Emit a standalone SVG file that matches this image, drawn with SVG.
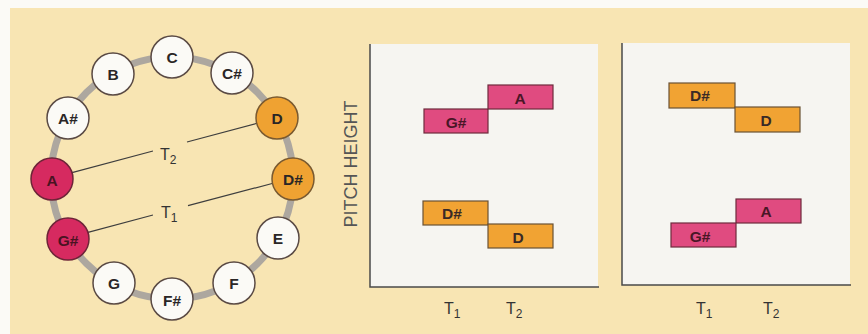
<svg xmlns="http://www.w3.org/2000/svg" width="868" height="334" viewBox="0 0 868 334">
  <style>
    .note circle { stroke: #5a4a44; stroke-width: 1.5; }
    .white circle { fill: #fbfaf6; }
    .red circle { fill: #d62a60; stroke: #6e2438; }
    .orange circle { fill: #efa232; stroke: #7a5a30; }
    .note text { font-family: "Liberation Sans", Arial, sans-serif; font-weight: bold; font-size: 15.5px; fill: #2a2626; text-anchor: middle; dominant-baseline: central; }
    .red text { fill: #4a1322; }
    .bar rect { stroke-width: 1.2; }
    .bar.pink rect { fill: #e04b80; stroke: #6e2a3c; }
    .bar.amber rect { fill: #f1a333; stroke: #6a5234; }
    .bar text { font-family: "Liberation Sans", Arial, sans-serif; font-weight: bold; font-size: 15.5px; fill: #3a2a26; text-anchor: middle; dominant-baseline: central; }
    .bar.pink text { fill: #4a1626; }
    .axis { stroke: #4a4a4a; stroke-width: 1.5; fill: none; }
    .lbl { font-family: "Liberation Sans", Arial, sans-serif; font-size: 16px; fill: #333; }
    .sub { font-size: 12px; }
    .chord { stroke: #3e3e3e; stroke-width: 1.2; fill: none; }
  </style>

  <!-- page and tinted background -->
  <rect x="0" y="0" width="868" height="334" fill="#fbfaf6"/>
  <rect x="10" y="8" width="858" height="326" fill="#f8e5b3"/>

  <!-- ring of pitch classes -->
  <circle cx="172" cy="178" r="121" fill="none" stroke="#ada79f" stroke-width="7"/>

  <!-- chords between pitch classes -->
  <g id="connectors">
    <path class="chord" d="M72,172.6 L153,151 M187,142 L258,123"/>
    <path class="chord" d="M88,232.4 L153,215 M188,205.6 L274,183"/>
    <text class="lbl" x="160" y="160">T<tspan class="sub" dy="4">2</tspan></text>
    <text class="lbl" x="161" y="218">T<tspan class="sub" dy="4">1</tspan></text>
  </g>

  <g id="note-C" class="note white"><circle cx="172" cy="57" r="21"/><text x="172" y="57">C</text></g>
  <g id="note-Cs" class="note white"><circle cx="232" cy="73" r="21"/><text x="232" y="73">C#</text></g>
  <g id="note-D" class="note orange"><circle cx="277" cy="118" r="21"/><text x="277" y="118">D</text></g>
  <g id="note-Ds" class="note orange"><circle cx="293" cy="179" r="21"/><text x="293" y="179">D#</text></g>
  <g id="note-E" class="note white"><circle cx="278" cy="238" r="21"/><text x="278" y="238">E</text></g>
  <g id="note-F" class="note white"><circle cx="234" cy="283" r="21"/><text x="234" y="283">F</text></g>
  <g id="note-Fs" class="note white"><circle cx="172" cy="299" r="21"/><text x="172" y="300">F#</text></g>
  <g id="note-G" class="note white"><circle cx="114" cy="283" r="21"/><text x="114" y="283">G</text></g>
  <g id="note-Gs" class="note red"><circle cx="68" cy="239" r="21"/><text x="68" y="240">G#</text></g>
  <g id="note-A" class="note red"><circle cx="52" cy="179" r="21"/><text x="52" y="180">A</text></g>
  <g id="note-As" class="note white"><circle cx="68" cy="118" r="21"/><text x="68" y="118">A#</text></g>
  <g id="note-B" class="note white"><circle cx="113" cy="74" r="21"/><text x="113" y="74">B</text></g>

  <!-- first pitch-height chart -->
  <g id="chart-1">
    <rect x="370" y="44" width="228" height="243" fill="#f6f5f1"/>
    <path class="axis" d="M370,44 L370,287 L599,287"/>
    <text class="lbl" transform="translate(357,164) rotate(-90)" text-anchor="middle" style="font-size:18px;fill:#555">PITCH HEIGHT</text>
    <g id="c1-Gs" class="bar pink"><rect x="424" y="109" width="64" height="24"/><text x="456" y="122">G#</text></g>
    <g id="c1-A" class="bar pink"><rect x="488" y="85" width="65" height="24"/><text x="520" y="98">A</text></g>
    <g id="c1-Ds" class="bar amber"><rect x="423" y="201" width="65" height="24"/><text x="452" y="213">D#</text></g>
    <g id="c1-D" class="bar amber"><rect x="488" y="224" width="65" height="24"/><text x="518" y="237">D</text></g>
    <text class="lbl" x="444" y="314">T<tspan class="sub" dy="4">1</tspan></text>
    <text class="lbl" x="506" y="314">T<tspan class="sub" dy="4">2</tspan></text>
  </g>

  <!-- second pitch-height chart -->
  <g id="chart-2">
    <rect x="622" y="43" width="228" height="242" fill="#f6f5f1"/>
    <path class="axis" d="M622,43 L622,285 L851,285"/>
    <g id="c2-Ds" class="bar amber"><rect x="669" y="83" width="66" height="25"/><text x="700" y="95">D#</text></g>
    <g id="c2-D" class="bar amber"><rect x="735" y="107" width="65" height="25"/><text x="766" y="120">D</text></g>
    <g id="c2-A" class="bar pink"><rect x="736" y="199" width="65" height="24"/><text x="766" y="211">A</text></g>
    <g id="c2-Gs" class="bar pink"><rect x="671" y="223" width="65" height="24"/><text x="700" y="236">G#</text></g>
    <text class="lbl" x="696" y="314">T<tspan class="sub" dy="4">1</tspan></text>
    <text class="lbl" x="763" y="314">T<tspan class="sub" dy="4">2</tspan></text>
  </g>
</svg>
